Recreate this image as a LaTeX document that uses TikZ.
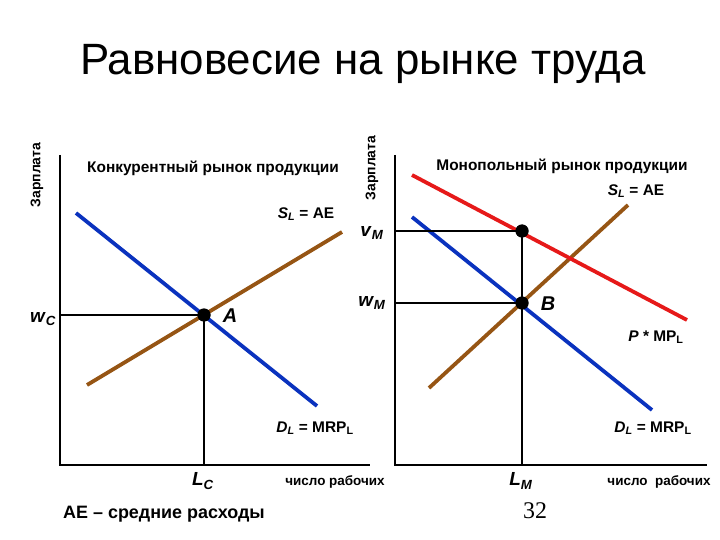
\documentclass[tikz,border=0pt]{standalone}
\usepackage{fontspec}
\setmainfont{Liberation Sans}
\newfontfamily\serifnum{Liberation Serif}
\definecolor{cblue}{RGB}{10,50,190}
\definecolor{cbrown}{RGB}{150,85,20}
\definecolor{cred}{RGB}{230,25,25}
\tikzset{
  axisline/.style={line width=2.4pt,black},
  guide/.style={line width=1.4pt,black},
  curve/.style={line width=3.8pt},
  lbl/.style={font=\fontsize{15.5}{17}\selectfont\bfseries,inner sep=0pt},
  ylbl/.style={font=\fontsize{14}{16}\selectfont\bfseries,inner sep=0pt,rotate=90},
  xlbl/.style={font=\fontsize{13.5}{15}\selectfont\bfseries,inner sep=0pt},
  big/.style={font=\fontsize{19}{21}\selectfont\bfseries,inner sep=0pt},
  eqdot/.style={circle,fill=black,minimum size=13bp,inner sep=0pt},
}
\begin{document}
\begin{tikzpicture}[x=1bp,y=-1bp]
\useasboundingbox (0,0) rectangle (720,540);
\node[font=\fontsize{44}{48}\selectfont] (title) at (363,64) {Равновесие на рынке труда};
% ---------- left panel
\coordinate (Ltop) at (60,155);
\coordinate (Lo) at (60,465);
\coordinate (Lxend) at (370,465);
\coordinate (LwC) at (60,315);
\coordinate (LLC) at (204,465);
\coordinate (Db1) at (76,213);
\coordinate (Db2) at (317,406);
\coordinate (Sb1) at (87,385);
\coordinate (Sb2) at (342,232);
\draw[axisline] (Ltop) -- (Lo) -- (Lxend);
\draw[curve,cbrown] (Sb1) -- (Sb2);
\draw[curve,cblue] (Db1) -- (Db2);
\node[eqdot] (A) at (204,315) {};
\draw[guide] (LwC) -- (A.center) -- (LLC);
\node[eqdot] at (A) {};
\node[ylbl] (zl) at (37,175) {Зарплата};
\node[lbl] (tl) at (213,168) {Конкурентный рынок продукции};
\node[lbl] (sl) at (306,214) {\textit{S}\textsubscript{\textit{L}} = AE};
\node[big] (wc) at (43,319) {\textit{w}\textsubscript{\textit{C}}};
\node[big,font=\fontsize{20}{22}\selectfont\bfseries\itshape] (An) at (230,316) {A};
\node[lbl] (dl) at (315,428) {\textit{D}\textsubscript{\textit{L}} = MRP\textsubscript{L}};
\node[big] (lc) at (203,481) {\textit{L}\textsubscript{\textit{C}}};
\node[xlbl] (xl) at (335,482) {число рабочих};
\node[font=\fontsize{18}{20}\selectfont\bfseries,inner sep=0pt] (ae) at (164,514) {АЕ – средние расходы};
% ---------- right panel
\coordinate (Rtop) at (395,155);
\coordinate (Ro) at (395,465);
\coordinate (Rxend) at (707,465);
\coordinate (RvM) at (395,231);
\coordinate (RwM) at (395,303);
\coordinate (RLM) at (522,465);
\coordinate (Rr1) at (412,175);
\coordinate (Rr2) at (687,320);
\coordinate (Rb1) at (412,217);
\coordinate (Rb2) at (652,410);
\coordinate (Rs1) at (429,388);
\coordinate (Rs2) at (628,205);
\draw[axisline] (Rtop) -- (Ro) -- (Rxend);
\draw[curve,cbrown] (Rs1) -- (Rs2);
\draw[curve,cblue] (Rb1) -- (Rb2);
\draw[curve,cred] (Rr1) -- (Rr2);
\node[eqdot] (V) at (522,231) {};
\node[eqdot] (B) at (522,303) {};
\draw[guide] (RvM) -- (V.center) -- (RLM);
\draw[guide] (RwM) -- (B.center);
\node[eqdot] at (V) {};
\node[eqdot] at (B) {};
\node[ylbl] (zr) at (372,168) {Зарплата};
\node[lbl] (tr) at (562,166) {Монопольный рынок продукции};
\node[lbl] (sr) at (636,191) {\textit{S}\textsubscript{\textit{L}} = AE};
\node[big] (vm) at (372,233) {\textit{v}\textsubscript{\textit{M}}};
\node[big] (wm) at (372,303) {\textit{w}\textsubscript{\textit{M}}};
\node[big,font=\fontsize{20}{22}\selectfont\bfseries\itshape] (Bn) at (548,304) {B};
\node[lbl] (pm) at (656,337) {\textit{P} *\ MP\textsubscript{L}};
\node[lbl] (dr) at (653,428) {\textit{D}\textsubscript{\textit{L}} = MRP\textsubscript{L}};
\node[big] (lm) at (521,481) {\textit{L}\textsubscript{\textit{M}}};
\node[xlbl] (xr) at (659,482) {число\ \ рабочих};
\node[font=\serifnum\fontsize{24}{26}\selectfont,inner sep=0pt] (pg) at (535,511) {32};
\end{tikzpicture}
\end{document}
